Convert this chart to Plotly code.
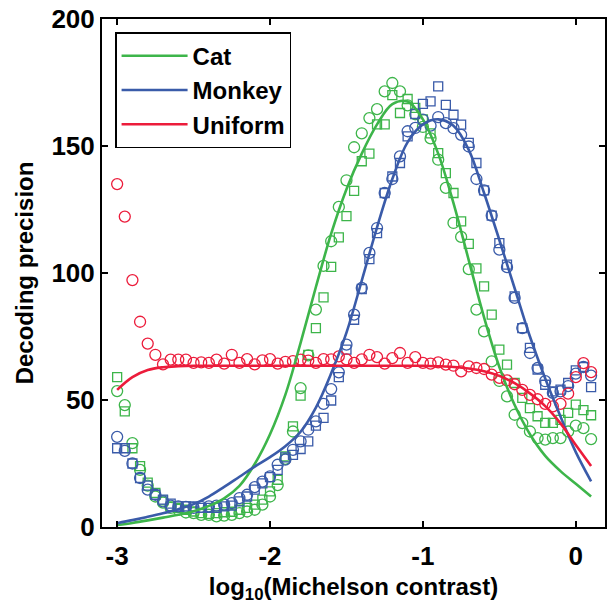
import plotly.graph_objects as go

# ---------------- data ----------------
x_pts = [-3.00, -2.95, -2.90, -2.85, -2.80, -2.75, -2.70, -2.65, -2.60, -2.55,
         -2.50, -2.45, -2.40, -2.35, -2.30, -2.25, -2.20, -2.15, -2.10, -2.05,
         -2.00, -1.95, -1.90, -1.85, -1.80, -1.75, -1.70, -1.65, -1.60, -1.55,
         -1.50, -1.45, -1.40, -1.35, -1.30, -1.25, -1.20, -1.15, -1.10, -1.05,
         -1.00, -0.95, -0.90, -0.85, -0.80, -0.75, -0.70, -0.65, -0.60, -0.55,
         -0.50, -0.45, -0.40, -0.35, -0.30, -0.25, -0.20, -0.15, -0.10, -0.05,
         0.00, 0.05, 0.10]

cat_circles = [53.5, 48, 33, 22.5, 16.3, 12, 9.6, 7.5, 6.8, 5.7,
               5.5, 4.8, 4.8, 4.2, 4.5, 4.8, 5.5, 6.1, 6.8, 8.8,
               12, 16.5, 26.8, 37.6, 54.7, 67.6, 85.6, 102.8, 112.5, 126,
               136.5, 149.5, 155, 161, 164.5, 171.5, 174.8, 171.5, 166, 162.5,
               157.5, 153, 144.6, 133.5, 119.7, 114.2, 101.5, 85.6, 77, 65.2,
               57.5, 51.4, 44.2, 40.9, 37.6, 35, 34.4, 35, 35, 37.6,
               39.9, 38.9, 34.6]

cat_squares = [59, 45.5, 31, 24, 17.5, 13.4, 10.5, 8.1, 7.5, 6.8,
               6.1, 5.5, 5.2, 5.5, 5.8, 6, 6.8, 7.5, 8.8, 10.8,
               14, 18.6, 27.8, 39.6, 51.7, 67.8, 78.3, 90.4, 102.4, 114,
               122.4, 132.3, 144, 147, 158.5, 158.5, 170, 163, 168.5, 165,
               160.5, 155, 147.2, 139.3, 131.5, 120.3, 111.5, 101.8, 94.7, 83.6,
               69.8, 63.9, 56.7, 50.8, 46.8, 43.6, 41, 41, 42.2, 44.9,
               48.2, 46, 44]

monkey_circles = [35.5, 30, 25, 19.3, 14.7, 12.7, 10.1, 8.4, 8.1, 7.9,
                  7.5, 7.9, 8.1, 8.4, 8.8, 9.4, 11.4, 12.7, 15.7, 17.9,
                  19.9, 24.5, 26.5, 30.4, 33.7, 38.3, 41.6, 48.5, 54.3, 60.9,
                  71.8, 83.6, 94.1, 107.9, 117.7, 131.5, 137, 145.9, 155.8, 157.1,
                  160.4, 158, 161.4, 159, 157, 154.4, 149.8, 137, 132.5, 122.6,
                  109.2, 102.3, 90.2, 78.3, 68.5, 62.6, 57.4, 52.8, 53.4, 55.5,
                  60.4, 63, 59.6]

monkey_squares = [31, 31, 25, 19.3, 16.3, 12.7, 10.8, 9.2, 8.1, 8.1,
                  8.1, 7.5, 7.5, 7.5, 8.1, 8.4, 10.1, 12, 14.7, 17.2,
                  19.6, 22.5, 27.4, 28.4, 30.7, 33.7, 39.9, 43, 49.8, 59,
                  69.8, 81.6, 93.7, 105.5, 115.7, 131.5, 138, 143.3, 153.8, 162.6,
                  166.6, 167.6, 173.5, 166.2, 162.3, 158.4, 151.2, 143.3, 132.5, 122.6,
                  111.8, 103.3, 90.8, 78.3, 70.5, 62, 56, 53.4, 54.1, 56.7,
                  61.7, 63, 55.1]

uniform_circles = [135, 122.2, 97.2, 80.8, 72.2, 67.8, 64, 65.9, 65.9, 65.9,
                   64.6, 64.8, 64.6, 65.9, 64.3, 67.8, 64.6, 66.1, 64, 65.6,
                   66.1, 64.3, 65, 65.3, 65.9, 65.5, 64.6, 66.1, 66, 67.2,
                   66, 64.6, 66, 67.8, 66.9, 64.3, 66.5, 68.5, 64.6, 66.9,
                   64.6, 64.3, 64.8, 63.9, 63.5, 61.3, 63.2, 62.6, 62.2, 60,
                   58.7, 57.7, 56.2, 54, 52, 50.3, 48.5, 47.5, 48.5, 52.5,
                   59, 64.5, 61]

x_fit = [-3.0, -2.9, -2.8, -2.7, -2.6, -2.5, -2.4, -2.3, -2.2, -2.1,
         -2.0, -1.9, -1.8, -1.7, -1.6, -1.5, -1.4, -1.3, -1.2, -1.1,
         -1.0, -0.9, -0.8, -0.7, -0.6, -0.5, -0.4, -0.3, -0.2, -0.1,
         0.0, 0.1]

cat_fit = [0.8, 1.6, 2.6, 3.7, 4.8, 6.2, 8.3, 11.3, 16.2, 24.8,
           36.5, 52, 72.5, 94.5, 115.5, 133, 147, 158.5, 166.5, 167.5,
           160.5, 147, 127.5, 105, 82.5, 63, 48, 36.5, 28, 22,
           17, 12]

monkey_fit = [1.5, 2.7, 4, 5.4, 7, 9, 12, 15.8, 19.8, 23.8,
              27.5, 31.8, 37.5, 47, 60.5, 76.5, 97, 118, 137, 151.5,
              158.5, 160.5, 158, 148.5, 131.5, 113, 94, 75, 58.5, 43.5,
              29.5, 18]

uniform_fit = [54, 59, 61.8, 62.9, 63.3, 63.5, 63.5, 63.5, 63.5, 63.5,
               63.5, 63.5, 63.5, 63.5, 63.5, 63.5, 63.5, 63.5, 63.5, 63.5,
               63.5, 63.3, 63, 62.4, 61.3, 59.5, 56.6, 52.6, 47.6, 40.8,
               32.3, 24]

series_names = ["Cat", "Monkey", "Uniform"]
x_tick_vals = [-3, -2, -1, 0]
x_tick_text = ["-3", "-2", "-1", "0"]
y_tick_vals = [0, 50, 100, 150, 200]

# ---------------- style ----------------
GREEN = "#3DB54A"
BLUE = "#3A5BA9"
RED = "#EC1C3B"
FONT = "Liberation Sans, Arial, Helvetica, sans-serif"

fig = go.Figure()

def pts(y, color, symbol, size):
    fig.add_trace(go.Scatter(
        x=x_pts, y=y, mode="markers", showlegend=False, hoverinfo="skip",
        marker=dict(symbol=symbol, size=size, color=color,
                    line=dict(color=color, width=1.3))))

pts(cat_circles, GREEN, "circle-open", 11)
pts(cat_squares, GREEN, "square-open", 9)
pts(monkey_circles, BLUE, "circle-open", 11)
pts(monkey_squares, BLUE, "square-open", 9)
pts(uniform_circles, RED, "circle-open", 11)

for name, yv, col in zip(series_names, [cat_fit, monkey_fit, uniform_fit], [GREEN, BLUE, RED]):
    fig.add_trace(go.Scatter(
        x=x_fit, y=yv, mode="lines", name=name,
        line=dict(color=col, width=2.6, shape="spline", smoothing=1.0)))

axis_common = dict(
    showline=True, linecolor="black", linewidth=2, mirror="ticks",
    ticks="inside", ticklen=6, tickwidth=1.5, tickcolor="black",
    showgrid=False, zeroline=False,
    tickfont=dict(family=FONT, size=26, color="black", weight="bold"),
)

fig.update_layout(
    width=607, height=604,
    margin=dict(l=102, r=0, t=19, b=77),
    plot_bgcolor="white", paper_bgcolor="white",
    font=dict(family=FONT, size=24, color="black", weight="bold"),
    xaxis=dict(range=[-3.099, 0.191], tickvals=x_tick_vals, ticktext=x_tick_text,
               ticklabelstandoff=5,
               title=dict(text="log<sub>10</sub>(Michelson contrast)",
                          font=dict(family=FONT, size=24, color="black", weight="bold"),
                          standoff=10),
               **axis_common),
    yaxis=dict(range=[0, 200], tickvals=y_tick_vals,
               title=dict(text="Decoding precision",
                          font=dict(family=FONT, size=24, color="black", weight="bold"),
                          standoff=11),
               **axis_common),
    legend=dict(x=0.026, y=0.974, xanchor="left", yanchor="top",
                bgcolor="white", bordercolor="black", borderwidth=1.5,
                font=dict(family=FONT, size=24, color="black", weight="bold"),
                itemwidth=66, tracegroupgap=0),
)

fig.write_html("out.html")
